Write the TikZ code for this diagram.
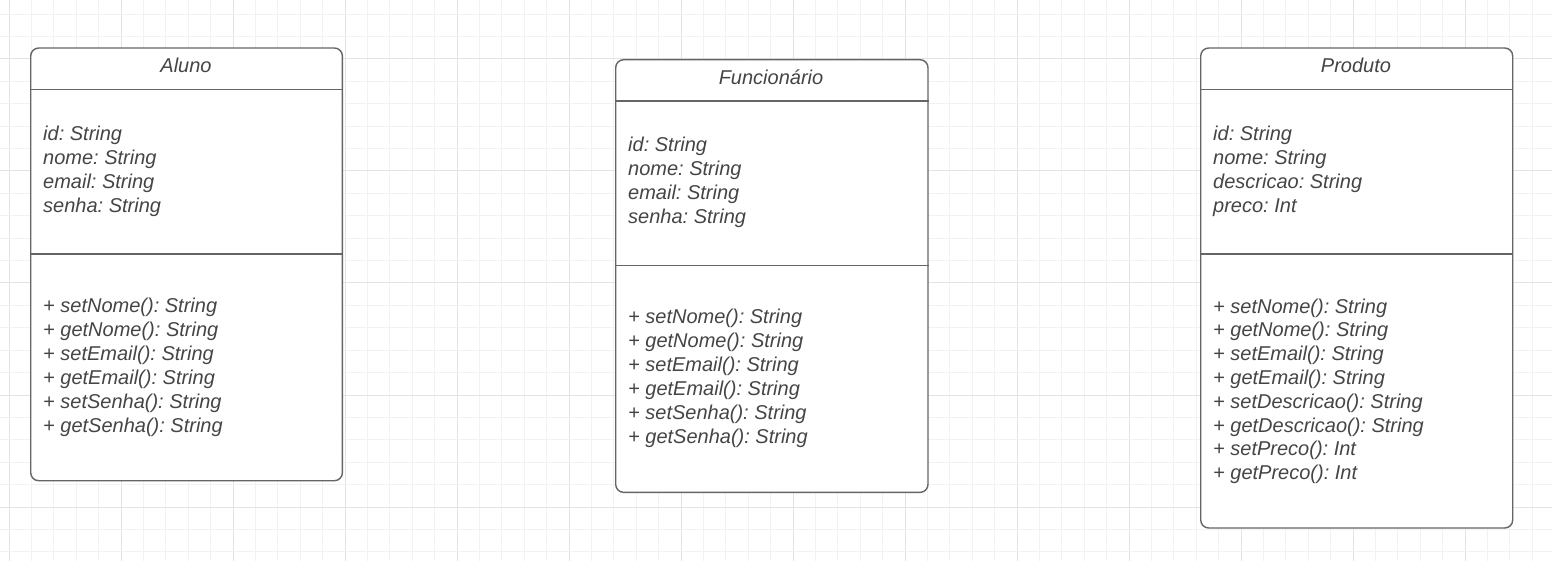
\documentclass[tikz,border=0pt]{standalone}
\usepackage{fontspec}
\setmainfont{Liberation Sans}
\frenchspacing
\definecolor{gridminor}{HTML}{F2F2F2}
\definecolor{gridmajor}{HTML}{E3E3E3}
\definecolor{boxline}{HTML}{656565}
\definecolor{txtcol}{HTML}{454545}
\tikzset{
  umlbox/.style={draw=boxline, fill=white, rounded corners=8pt, line width=1.4pt, inner sep=0pt, anchor=north west},
  sepline/.style={draw=boxline, line width=1.3pt},
  txt/.style={inner sep=0pt, anchor=base west, text=txtcol, font=\fontsize{20}{24}\selectfont\itshape\frenchspacing},
  ttl/.style={inner sep=0pt, anchor=base, text=txtcol, font=\fontsize{20}{24}\selectfont\itshape\frenchspacing},
}
\begin{document}
\begin{tikzpicture}[x=1pt,y=-1pt]
\useasboundingbox (0,0) rectangle (1552,561);
\fill[white] (0,0) rectangle (1552,561);
% grid
\foreach \k in {0,...,69}{
  \pgfmathsetmacro{\xx}{9+22.4*\k}
  \pgfmathtruncatemacro{\m}{mod(\k,5)}
  \ifnum\m=0
    \draw[gridmajor, line width=1pt] (\xx,0) -- (\xx,561);
  \else
    \draw[gridminor, line width=1pt] (\xx,0) -- (\xx,561);
  \fi
}
\foreach \k in {0,...,24}{
  \pgfmathsetmacro{\yy}{14.2+22.4*\k}
  \pgfmathtruncatemacro{\m}{mod(\k,5)}
  \ifnum\m=2
    \draw[gridmajor, line width=1pt] (0,\yy) -- (1552,\yy);
  \else
    \draw[gridminor, line width=1pt] (0,\yy) -- (1552,\yy);
  \fi
}

% ---------- Aluno ----------
\node[umlbox, minimum width=311.7pt, minimum height=432.7pt] (aluno) at (30,47.3) {};
\draw[sepline] (aluno.west |- 0,89.3) -- (aluno.east |- 0,89.3);
\draw[sepline] (aluno.west |- 0,254) -- (aluno.east |- 0,254);
\node[ttl] (aluno-t) at (186,73) {Aluno};
\foreach \t [count=\i from 0] in {id: String, nome: String, email: String, senha: String}
  \node[txt] (aluno-a\i) at (43,141+24*\i) {\t};
\foreach \t [count=\i from 0] in {+ setNome(): String, + getNome(): String, + setEmail(): String, + getEmail(): String, + setSenha(): String, + getSenha(): String}
  \node[txt] (aluno-m\i) at (43,312.5+24*\i) {\t};

% ---------- Funcionario ----------
\node[umlbox, minimum width=312.3pt, minimum height=432.7pt] (func) at (615,59) {};
\draw[sepline] (func.west |- 0,101) -- (func.east |- 0,101);
\draw[sepline] (func.west |- 0,265.7) -- (func.east |- 0,265.7);
\node[ttl] (func-t) at (771,85) {Funcionário};
\foreach \t [count=\i from 0] in {id: String, nome: String, email: String, senha: String}
  \node[txt] (func-a\i) at (628,151.7+24*\i) {\t};
\foreach \t [count=\i from 0] in {+ setNome(): String, + getNome(): String, + setEmail(): String, + getEmail(): String, + setSenha(): String, + getSenha(): String}
  \node[txt] (func-m\i) at (628,323.3+24*\i) {\t};

% ---------- Produto ----------
\node[umlbox, minimum width=312pt, minimum height=480pt] (prod) at (1200,47.3) {};
\draw[sepline] (prod.west |- 0,89.3) -- (prod.east |- 0,89.3);
\draw[sepline] (prod.west |- 0,254) -- (prod.east |- 0,254);
\node[ttl] (prod-t) at (1356,73) {Produto};
\foreach \t [count=\i from 0] in {id: String, nome: String, descricao: String, preco: Int}
  \node[txt] (prod-a\i) at (1213,141+24*\i) {\t};
\foreach \t [count=\i from 0] in {+ setNome(): String, + getNome(): String, + setEmail(): String, + getEmail(): String, + setDescricao(): String, + getDescricao(): String, + setPreco(): Int, + getPreco(): Int}
  \node[txt] (prod-m\i) at (1213,313+23.8*\i) {\t};
\end{tikzpicture}
\end{document}
